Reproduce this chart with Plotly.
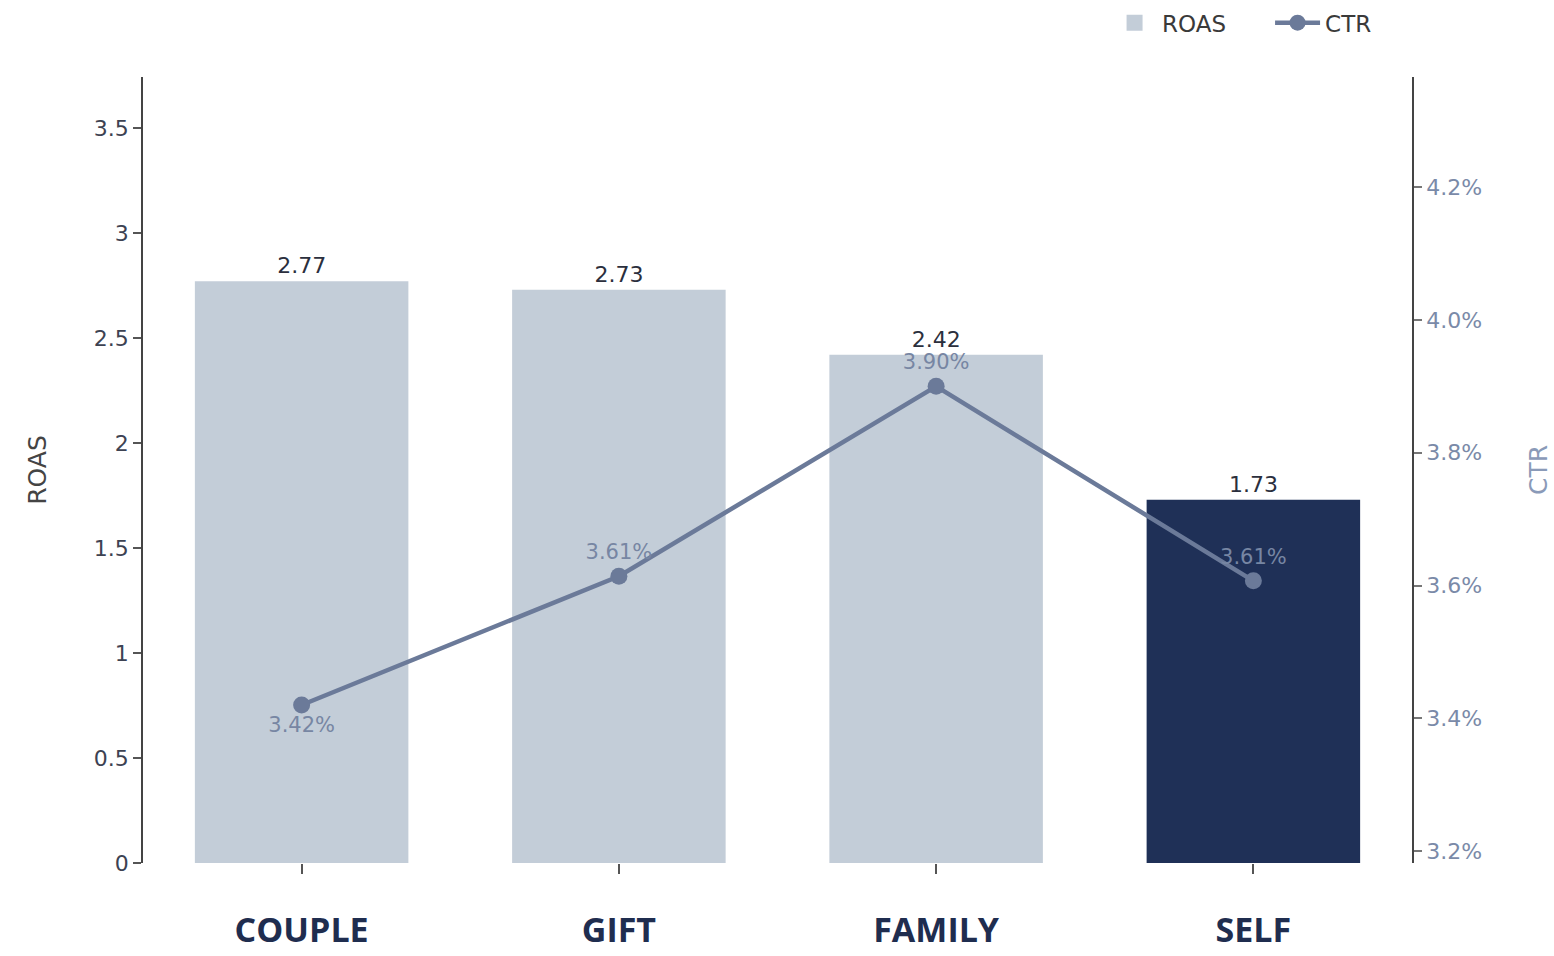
import plotly.graph_objects as go

# Segment performance: ROAS bars with CTR line on a secondary axis
segments = ["COUPLE", "GIFT", "FAMILY", "SELF"]
roas = [2.77, 2.73, 2.42, 1.73]
ctr = [0.0342, 0.03614, 0.0390, 0.03607]
ctr_text_pos = ["bottom center", "top center", "top center", "top center"]
highlight = "SELF"

BAR_LIGHT = "#c3cdd8"
BAR_DARK = "#1f3057"
LINE_COLOR = "#6b7a99"
bar_colors = [BAR_DARK if s == highlight else BAR_LIGHT for s in segments]

BASE_FONT = "DejaVu Sans, Verdana, sans-serif"

fig = go.Figure()

fig.add_trace(go.Bar(
    x=segments,
    y=roas,
    name="ROAS",
    legendgroup="roas",
    showlegend=False,
    marker=dict(color=bar_colors, line=dict(width=0)),
    text=[f"{v:.2f}" for v in roas],
    textposition="outside",
    textfont=dict(size=22, color="#2b2f3d", family=BASE_FONT),
    cliponaxis=False,
    yaxis="y",
))

# legend entry for the bars, drawn as a larger square swatch
fig.add_trace(go.Scatter(
    x=[None],
    y=[None],
    name="ROAS",
    legendgroup="roas",
    mode="markers",
    marker=dict(symbol="square", size=22, color=BAR_LIGHT),
    hoverinfo="skip",
))

fig.add_trace(go.Scatter(
    x=segments,
    y=ctr,
    name="CTR",
    mode="lines+markers+text",
    line=dict(color=LINE_COLOR, width=4.5),
    marker=dict(color=LINE_COLOR, size=17),
    texttemplate="%{y:.2%}",
    textposition=ctr_text_pos,
    textfont=dict(size=21, color="#7786a3", family=BASE_FONT),
    cliponaxis=False,
    yaxis="y2",
))

fig.update_layout(
    width=1554,
    height=956,
    margin=dict(l=143, r=142, t=77, b=93, autoexpand=False),
    paper_bgcolor="white",
    plot_bgcolor="white",
    font=dict(family=BASE_FONT, size=22, color="#3d4252"),
    bargap=0.327,
    showlegend=True,
    legend=dict(
        orientation="h",
        x=1.0166, xanchor="right",
        y=1.069, yanchor="middle",
        font=dict(size=23, color="#3a3a3a", family=BASE_FONT),
        bgcolor="rgba(0,0,0,0)",
        itemwidth=45,
        entrywidth=103,
        traceorder="normal",
    ),
    xaxis=dict(
        range=[-0.5, 3.5],
        automargin=False,
        showgrid=False,
        showline=False,
        zeroline=False,
        ticks="outside",
        ticklen=10,
        tickwidth=1.5,
        tickcolor="#555",
        ticklabelstandoff=27,
        tickfont=dict(size=34, color="#1f2d4f", family="Open Sans", weight="bold"),
    ),
    yaxis=dict(
        title=dict(text="ROAS", font=dict(size=25, color="#444", family=BASE_FONT), standoff=40),
        automargin=False,
        range=[0, 3.743],
        tickvals=[0, 0.5, 1, 1.5, 2, 2.5, 3, 3.5],
        ticktext=["0", "0.5", "1", "1.5", "2", "2.5", "3", "3.5"],
        showgrid=False,
        zeroline=False,
        showline=True,
        linecolor="#444",
        linewidth=1.5,
        ticks="outside",
        ticklen=8,
        tickwidth=1.5,
        tickcolor="#555",
        tickfont=dict(size=22, color="#3d4252", family=BASE_FONT),
    ),
    yaxis2=dict(
        title=dict(text="CTR", font=dict(size=25, color="#8a9ab8", family=BASE_FONT), standoff=48),
        automargin=False,
        overlaying="y",
        side="right",
        range=[0.03182, 0.04366],
        tickvals=[0.032, 0.034, 0.036, 0.038, 0.040, 0.042],
        tickformat=".1%",
        showgrid=False,
        zeroline=False,
        showline=True,
        linecolor="#444",
        linewidth=1.5,
        ticks="outside",
        ticklen=8,
        tickwidth=1.5,
        tickcolor="#777",
        tickfont=dict(size=22, color="#7a8aa8", family=BASE_FONT),
    ),
)

fig.write_html("out.html")
